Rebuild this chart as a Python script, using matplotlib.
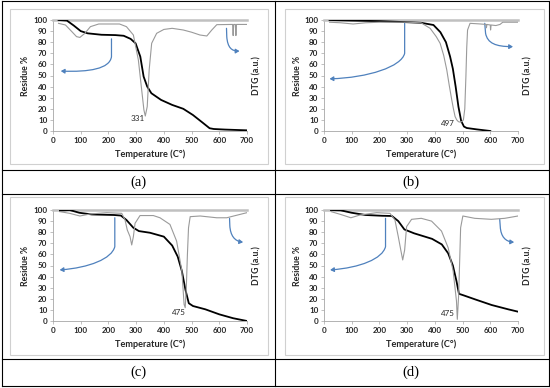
import matplotlib
matplotlib.use('Agg')
import matplotlib.pyplot as plt
from matplotlib.path import Path
from matplotlib.patches import FancyArrowPatch, Rectangle
from matplotlib.lines import Line2D

plt.rcParams['font.family'] = ['Lato', 'DejaVu Sans']

W, H = 550, 388

# ---- data ----
# (a)
tg_a_temp = [20, 50, 75, 100, 125, 175, 225, 255, 280, 298, 315, 327, 340, 355, 390, 430,
             470, 505, 540, 565, 580, 620, 700]
tg_a_res = [100, 99.5, 95, 90, 88, 86.7, 86.4, 85.8, 83, 79, 67, 49, 40, 34, 28, 23.5,
            20, 14.4, 7.5, 2.5, 1.8, 1.3, 0.6]
dtg_a_temp = [20, 45, 68, 85, 97, 115, 135, 165, 240, 265, 290, 308, 320, 328, 333, 340,
              347, 356, 374, 400, 430, 470, 500, 530, 555, 573, 591, 648, 650, 652, 658,
              660, 662, 680, 700]
dtg_a_val = [97, 95.5, 89.5, 85, 84.3, 88, 94, 96.4, 96.4, 94, 86.5, 64, 37, 19, 13.5, 22,
             55, 79, 88, 91.5, 92.5, 91, 89, 86.5, 85.6, 91, 95.8, 96, 86, 96, 96,
             86, 96, 96, 96]

# (b)
tg_b_temp = [20, 100, 200, 300, 350, 395, 420, 440, 455, 465, 475, 485, 495, 505, 515, 550, 600]
tg_b_res = [100, 99.5, 99, 98, 97.5, 95.5, 89, 80, 67, 56, 40, 22, 9, 4, 2.7, 1.5, 0]
dtg_b_temp = [20, 60, 105, 150, 200, 300, 350, 383, 405, 419, 432, 443, 452, 461, 467, 473,
              479, 485, 491, 497, 503, 508, 512, 515, 518, 527, 560, 585, 586, 588, 600,
              601, 603, 620, 635, 645, 700]
dtg_b_val = [98, 97.5, 96.4, 97.5, 98, 98, 97.5, 92.5, 85, 79, 68, 55, 41, 28, 20, 13,
             10, 8.4, 8, 8.4, 10, 20, 49, 75, 91, 97, 96.5, 96, 93, 96, 95.5,
             91, 95.5, 95, 96, 98, 98]

# (c)
tg_c_temp = [25, 60, 95, 140, 220, 245, 265, 290, 310, 350, 400, 430, 450, 465, 478, 490,
             505, 550, 600, 650, 700]
tg_c_res = [99.5, 100, 97.5, 96, 95.5, 95, 91, 84, 81, 79.5, 76, 68, 58, 45, 28, 16,
            13.5, 10.5, 6, 2.5, 0]
dtg_c_temp = [25, 60, 97, 134, 194, 248, 260, 268, 278, 284, 290, 296, 314, 362, 386, 422,
              446, 465, 473, 477, 481, 485, 489, 495, 531, 591, 627, 652, 700]
dtg_c_val = [98.5, 97, 94.6, 96.4, 97.6, 97, 91, 82, 76, 68.5, 76, 88, 95, 95, 93, 87,
             72, 45, 15, 12, 30, 60, 84, 94, 94.6, 93, 93, 94.6, 97.6]

# (d)
tg_d_temp = [25, 60, 100, 150, 210, 245, 268, 290, 325, 390, 425, 448, 465, 478, 487, 505,
             545, 605, 665, 700]
tg_d_res = [100, 99.7, 97.5, 95.5, 94.8, 94.6, 90, 82.5, 79, 74, 69, 61, 50, 36, 24.5, 23,
            19.5, 14.4, 10.5, 8.4]
dtg_d_temp = [26, 60, 97, 130, 190, 238, 256, 268, 277, 284, 291, 298, 316, 351, 388, 424,
              448, 466, 478, 481, 486, 493, 501, 544, 604, 652, 700]
dtg_d_val = [98.5, 96, 93, 95.5, 97.6, 97, 91, 76, 64, 55, 64, 85, 91.6, 92.5, 90, 81,
             66, 45, 18, 1.5, 24, 84, 94.6, 92.5, 91.6, 92.5, 94.6]

peak_labels = ['331', '497', '475', '475']
panel_letters = ['(a)', '(b)', '(c)', '(d)']

x_ticks = [0, 100, 200, 300, 400, 500, 600, 700]
y_ticks = [0, 10, 20, 30, 40, 50, 60, 70, 80, 90, 100]

# ---- layout (pixels of the 550x388 picture) ----
plot_boxes = [(53, 20, 247, 131), (324, 20, 518, 131), (53, 210, 247, 321), (324, 210, 518, 321)]
chart_frames = [(10, 9, 268, 164), (285, 9, 544, 164), (10, 197, 268, 355), (285, 197, 544, 355)]
peak_pos = [(305, 11), (448, 7), (455, 8), (447, 7)]
letter_pos = [(138, 182), (411, 182), (138, 372), (411, 372)]
# curved blue arrows: start of drop line, bend, two controls, tip
left_arrows = [[(211, 83), (211, 67), (205, 56), (130, 53), (28, 54)],
               [(291, 97), (291, 70), (280, 58), (160, 48), (20, 47)],
               [(223, 93), (223, 67), (212, 56), (130, 48), (24, 46)],
               [(222, 92.5), (222, 67), (211, 56), (130, 48), (22, 46)]]
right_arrows = [[(626, 92.5), (627, 85), (630, 75), (645, 72), (673, 72)],
                [(580, 97), (583, 88), (590, 79), (620, 76), (682, 76)],
                [(637, 92.5), (638, 86), (640, 77), (655, 72), (686, 71)],
                [(634, 91.6), (636, 85), (638, 76), (655, 71.5), (686, 71)]]

tg_data = [(tg_a_temp, tg_a_res), (tg_b_temp, tg_b_res), (tg_c_temp, tg_c_res), (tg_d_temp, tg_d_res)]
dtg_data = [(dtg_a_temp, dtg_a_val), (dtg_b_temp, dtg_b_val), (dtg_c_temp, dtg_c_val),
            (dtg_d_temp, dtg_d_val)]

BLUE = '#4F81BD'
AXIS_GREY = '#a6a6a6'
TXT = '#262626'


def fig_rect(x0, y0, x1, y1):
    return [x0 / W, 1 - y1 / H, (x1 - x0) / W, (y1 - y0) / H]


def blue_arrow(ax, pts):
    codes = [Path.MOVETO, Path.LINETO, Path.CURVE4, Path.CURVE4, Path.CURVE4]
    arr = FancyArrowPatch(path=Path(pts, codes), arrowstyle='-|>,head_length=2.2,head_width=1.3',
                          color=BLUE, lw=0.9, mutation_scale=1, transform=ax.transData,
                          clip_on=False, zorder=5)
    ax.add_patch(arr)


fig = plt.figure(figsize=(W / 100, H / 100), dpi=100)

# table lines
for y in [1, 170, 194, 359, 386]:
    fig.add_artist(Line2D([1.5 / W, 548.5 / W], [1 - y / H, 1 - y / H], color='black', lw=0.8))
for x in [1.5, 274.5, 548.5]:
    fig.add_artist(Line2D([x / W, x / W], [1 - 1 / H, 1 - 386 / H], color='black', lw=0.8))

for i in range(4):
    fx0, fy0, fx1, fy1 = chart_frames[i]
    fig.add_artist(Rectangle((fx0 / W, 1 - fy1 / H), (fx1 - fx0) / W, (fy1 - fy0) / H,
                             transform=fig.transFigure, fill=False, ec='#d0d0d0', lw=0.8))

    x0, y0, x1, y1 = plot_boxes[i]
    ax = fig.add_axes(fig_rect(*plot_boxes[i]))
    ax2 = ax.twinx()

    ax.plot(tg_data[i][0], tg_data[i][1], color='black', lw=1.3, zorder=4)
    ax2.plot(dtg_data[i][0], dtg_data[i][1], color='#9a9a9a', lw=0.8, zorder=3)

    for a in (ax, ax2):
        a.set_xlim(0, 700)
        a.set_ylim(0, 100)
    ax.set_xticks(x_ticks)
    ax.set_yticks(y_ticks)
    ax2.set_yticks([])
    ax.tick_params(length=2, width=0.5, color=AXIS_GREY, labelsize=5.8, pad=2, labelcolor=TXT)
    for lbl in ax.get_xticklabels() + ax.get_yticklabels():
        lbl.set_fontweight('bold')

    for a in (ax, ax2):
        for s in a.spines.values():
            s.set_visible(False)
    for side in ('left', 'bottom'):
        ax.spines[side].set_visible(True)
        ax.spines[side].set_color(AXIS_GREY)
        ax.spines[side].set_linewidth(0.6)
    ax.spines['top'].set_visible(True)
    ax.spines['top'].set_color('#c0c0c0')
    ax.spines['top'].set_linewidth(1.8)

    pw, ph = x1 - x0, y1 - y0
    ax.set_ylabel('Residue %', fontsize=6.3, fontweight='bold', color=TXT, va='center')
    ax.yaxis.set_label_coords(-27 / pw, 0.5)
    ax.set_xlabel('Temperature (C°)', fontsize=6.6, fontweight='bold', color=TXT, va='center')
    ax.xaxis.set_label_coords(0.5, -23.5 / ph)
    ax2.set_ylabel('DTG (a.u.)', fontsize=6.3, fontweight='bold', color=TXT, va='center',
                   rotation=90)
    ax2.yaxis.set_label_coords(1 + 9.5 / pw, 0.5)

    ax.text(peak_pos[i][0], peak_pos[i][1], peak_labels[i], fontsize=5.8, color=TXT,
            ha='center', va='center', zorder=6)

    blue_arrow(ax, left_arrows[i])
    blue_arrow(ax, right_arrows[i])

    lx, ly = letter_pos[i]
    fig.text(lx / W, 1 - ly / H, panel_letters[i], fontsize=10.5, family='Liberation Serif',
             ha='center', va='center', color='black')

fig.savefig('out.png', dpi=100)
